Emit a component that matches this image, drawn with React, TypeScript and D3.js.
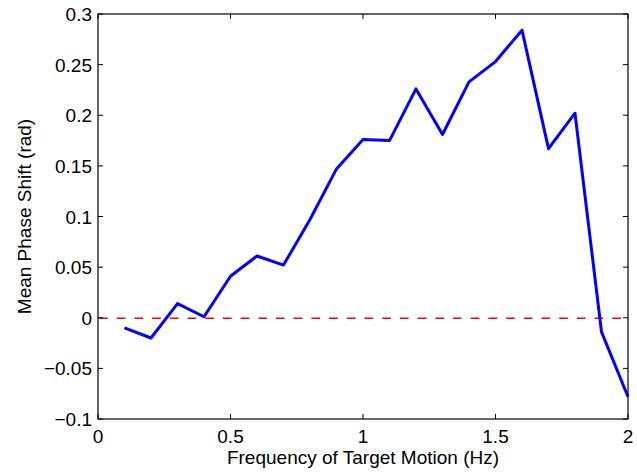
import React from "react";
import * as d3 from "d3";

const freqs = [0.1, 0.2, 0.3, 0.4, 0.5, 0.6, 0.7, 0.8, 0.9, 1.0, 1.1, 1.2, 1.3, 1.4, 1.5, 1.6, 1.7, 1.8, 1.9, 2.0];
const phaseShift = [-0.01, -0.02, 0.014, 0.001, 0.041, 0.061, 0.052, 0.097, 0.147, 0.176, 0.175, 0.226, 0.181, 0.233, 0.253, 0.284, 0.167, 0.202, -0.014, -0.078];
const xTicks = [0, 0.5, 1, 1.5, 2];
const yTicks = [-0.1, -0.05, 0, 0.05, 0.1, 0.15, 0.2, 0.25, 0.3];

const W = 637, H = 476;
const L = 98, R = 628, T = 14, B = 419;

export default function App() {
  const x = d3.scaleLinear().domain([0, 2]).range([L, R]);
  const y = d3.scaleLinear().domain([-0.1, 0.3]).range([B, T]);
  const line = d3.line<number>().x((_, i) => x(freqs[i])).y((d) => y(d));
  const fmt = (v: number) => {
    const s = String(Math.round(v * 100) / 100);
    return s.replace("-", "\u2212");
  };
  const font = "Liberation Sans, Arial, Helvetica, sans-serif";
  const tl = 5;
  const y0 = Math.round(y(0)) + 0.3;
  return (
    <svg width={W} height={H} style={{ position: "absolute", left: 0, top: 0, background: "#fff" }}>
      <rect x={0} y={0} width={W} height={H} fill="#fff" />
      <line x1={x(0) + 1} x2={x(2)} y1={y0} y2={y0} stroke="#ff0000" strokeWidth={1.6} strokeDasharray="8.7,9" />
      <path d={line(phaseShift) || ""} fill="none" stroke="#0000ff" strokeWidth={3} strokeLinejoin="round" />
      <rect x={L} y={T} width={R - L} height={B - T} fill="none" stroke="#000" strokeWidth={1.2} />
      {xTicks.map((t) => (
        <g key={"x" + t}>
          <line x1={x(t)} x2={x(t)} y1={B} y2={B - tl} stroke="#000" strokeWidth={1} />
          <line x1={x(t)} x2={x(t)} y1={T} y2={T + tl} stroke="#000" strokeWidth={1} />
          <text x={x(t)} y={B + 24} textAnchor="middle" fontFamily={font} fontSize={19}>{fmt(t)}</text>
        </g>
      ))}
      {yTicks.map((t) => (
        <g key={"y" + t}>
          <line x1={L} x2={L + tl} y1={y(t)} y2={y(t)} stroke="#000" strokeWidth={1} />
          <line x1={R} x2={R - tl} y1={y(t)} y2={y(t)} stroke="#000" strokeWidth={1} />
          <text x={L - 6} y={y(t) + 7} textAnchor="end" fontFamily={font} fontSize={19}>{fmt(t)}</text>
        </g>
      ))}
      <text x={(L + R) / 2} y={464} textAnchor="middle" fontFamily={font} fontSize={19}>Frequency of Target Motion (Hz)</text>
      <text transform={`translate(31,${(T + B) / 2}) rotate(-90)`} textAnchor="middle" fontFamily={font} fontSize={19}>Mean Phase Shift (rad)</text>
    </svg>
  );
}
